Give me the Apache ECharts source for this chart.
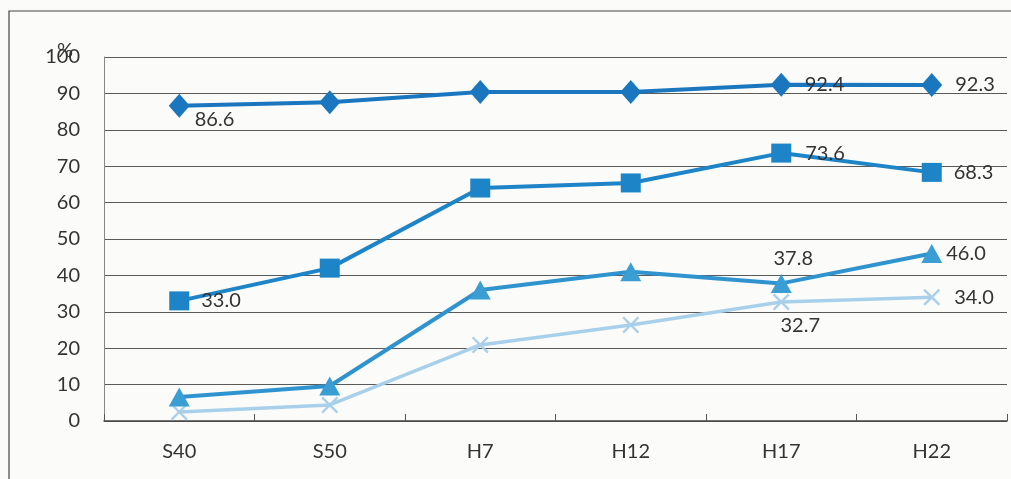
<!DOCTYPE html>
<html>
<head>
<meta charset="utf-8">
<script src="https://cdn.jsdelivr.net/npm/echarts@6/dist/echarts.min.js"></script>
<style>
html,body{margin:0;padding:0;background:#fbfbf9;}
#c{width:1011px;height:479px;}
</style>
</head>
<body>
<div id="c"></div>
<script>
const categories = ['S40', 'S50', 'H7', 'H12', 'H17', 'H22'];
const seriesDiamond = [86.6, 87.6, 90.4, 90.4, 92.4, 92.3];
const seriesSquare = [33.0, 42.0, 64.0, 65.4, 73.6, 68.3];
const seriesTriangle = [6.6, 9.6, 36.0, 41.0, 37.8, 46.0];
const seriesCross = [2.5, 4.4, 20.9, 26.4, 32.7, 34.0];
const yTicks = [0, 10, 20, 30, 40, 50, 60, 70, 80, 90, 100];

const font = 'Lato, "Open Sans", sans-serif';
const lbl = (pos, dist, off) => ({show: true, position: pos, distance: dist, offset: off || [0,0],
  color: '#333', fontSize: 20, fontFamily: font, formatter: p => p.value.toFixed(1)});

function withLabels(values, labels) {
  return values.map((v, i) => labels[i] ? {value: v, label: labels[i]} : v);
}

const crossPath = 'path://M0,1 L1,0 L5,4 L9,0 L10,1 L6,5 L10,9 L9,10 L5,6 L1,10 L0,9 L4,5 Z';

const chart = echarts.init(document.getElementById('c'));
chart.setOption({
  backgroundColor: '#fbfbf9',
  animation: false,
  grid: {left: 104, right: 4, top: 57, bottom: 58},
  graphic: [
    {type: 'rect', shape: {x: 9, y: 11, width: 1010, height: 480}, style: {fill: 'none', stroke: '#444', lineWidth: 1.2}},
    {type: 'text', left: 57, top: 41, z: 10, style: {text: '%', fontSize: 20, fontFamily: font, fill: '#333'}}
  ],
  xAxis: {
    type: 'category', data: categories, boundaryGap: true,
    axisLine: {lineStyle: {color: '#444', width: 1.5}},
    axisTick: {show: true, inside: true, length: 7, lineStyle: {color: '#555'}},
    axisLabel: {color: '#333', fontSize: 20, fontFamily: font, margin: 21}
  },
  yAxis: {
    type: 'value', min: 0, max: 100, interval: 10,
    axisLine: {show: true, lineStyle: {color: '#888', width: 1}},
    axisTick: {show: false},
    axisLabel: {color: '#333', fontSize: 20, fontFamily: font, margin: 24,
      formatter: v => yTicks.includes(v) ? String(v) : ''},
    splitLine: {lineStyle: {color: '#5a5a5a', width: 1.2}}
  },
  series: [
    {type: 'line', data: withLabels(seriesCross, {4: lbl('bottom', 5, [19, 0]), 5: lbl('right', 14)}),
     symbol: crossPath, symbolSize: 17, lineStyle: {color: '#a9d0ea', width: 3.5},
     itemStyle: {color: '#a9d0ea'}, z: 2},
    {type: 'line', data: withLabels(seriesTriangle, {4: lbl('top', 5, [12, 0]), 5: lbl('right', 4)}),
     symbol: 'triangle', symbolSize: [21, 19], lineStyle: {color: '#2f93cf', width: 4},
     itemStyle: {color: '#3a9dd4'}, z: 3},
    {type: 'line', data: withLabels(seriesSquare, {0: lbl('right', 12), 4: lbl('right', 14), 5: lbl('right', 12)}),
     symbol: 'rect', symbolSize: [20, 19], lineStyle: {color: '#1d84c8', width: 4},
     itemStyle: {color: '#1d84c8'}, z: 4},
    {type: 'line', data: withLabels(seriesDiamond, {0: lbl('right', 5, [0, 14]), 4: lbl('right', 13), 5: lbl('right', 13)}),
     symbol: 'diamond', symbolSize: [21, 24], lineStyle: {color: '#1a77bf', width: 4},
     itemStyle: {color: '#1a77bf'}, z: 5}
  ]
});
</script>
</body>
</html>
